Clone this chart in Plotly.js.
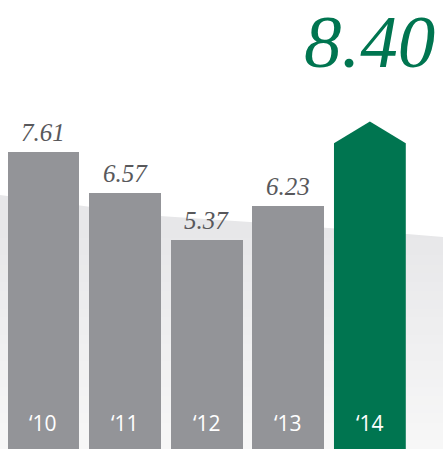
<!DOCTYPE html>
<html>
<head>
<meta charset="utf-8">
<script src="https://cdn.plot.ly/plotly-3.0.1.min.js"></script>
<style>html,body{margin:0;padding:0;background:#fff;}#chart{width:443px;height:449px;}</style>
</head>
<body>
<div id="chart"></div>
<script>
// Data
const years = ["\u201810", "\u201811", "\u201812", "\u201813", "\u201814"];
const values = [7.61, 6.57, 5.37, 6.23, 8.40];
const valueLabels = ["7.61", "6.57", "5.37", "6.23", "8.40"];

// Style
const GRAY = "#939498";
const GREEN = "#007550";
const BAR_W = 0.88;
const HEAD = 0.56; // arrow head height in value units

const n = values.length;
const idx = values.map((_, i) => i);
const last = n - 1;

const traces = [];
// gray bars
traces.push({
  type: "bar",
  x: idx.slice(0, last),
  y: values.slice(0, last),
  width: BAR_W,
  marker: {color: GRAY, line: {width: 0}},
  hoverinfo: "skip"
});
// final arrow bar built from its value
const v = values[last];
traces.push({
  type: "scatter",
  mode: "lines",
  x: [last - BAR_W / 2, last - BAR_W / 2, last, last + BAR_W / 2, last + BAR_W / 2, last - BAR_W / 2],
  y: [0, v - HEAD, v, v - HEAD, 0, 0],
  fill: "toself",
  fillcolor: GREEN,
  line: {width: 0, color: GREEN},
  hoverinfo: "skip"
});

const annotations = [];
idx.forEach(i => {
  if (i < last) {
    annotations.push({
      x: i, y: values[i], xref: "x", yref: "y",
      text: valueLabels[i], showarrow: false,
      yanchor: "bottom", yshift: 4,
      font: {family: "Liberation Serif", size: 25, color: "#58585b", style: "italic"}
    });
  } else {
    annotations.push({
      x: i, y: values[i], xref: "x", yref: "y",
      text: valueLabels[i], showarrow: false,
      yanchor: "bottom", yshift: 37, borderpad: 0,
      font: {family: "Liberation Serif", size: 75, color: GREEN, style: "italic"}
    });
  }
  annotations.push({
    x: i, y: 0, xref: "x", yref: "y",
    text: years[i], showarrow: false,
    yanchor: "bottom", yshift: 10,
    font: {family: "Open Sans", size: 21, color: "#ffffff"}
  });
});

// background swoosh (decoration, paper coords)
const W = 443, H = 449;
const px = (x) => (x / W).toFixed(4);
const py = (y) => (1 - y / H).toFixed(4);
const edge = [[0, 195], [160, 216], [250, 222], [407, 234], [443, 237]];
let path = "M " + edge.map(p => px(p[0]) + "," + py(p[1])).join(" L ") +
  " L " + px(443) + "," + py(449) + " L " + px(0) + "," + py(449) + " Z";
const shapes = [{
  type: "path", xref: "paper", yref: "paper", path: path,
  fillcolor: "#e7e7e9", line: {width: 0}, layer: "below"
}];
// gradient steps toward lighter at bottom (solid colours, later ones on top)
const c0 = [231, 231, 233], c1 = [247, 247, 247];
const steps = 24;
for (let s = 0; s < steps; s++) {
  const y0 = 238 + s * (449 - 238) / steps;
  const t = (s + 1) / steps;
  const c = c0.map((a, k) => Math.round(a + (c1[k] - a) * t));
  shapes.push({
    type: "rect", xref: "paper", yref: "paper",
    x0: 0, x1: 1, y0: 0, y1: 1 - y0 / H,
    fillcolor: "rgb(" + c.join(",") + ")", line: {width: 0}, layer: "below"
  });
}

const layout = {
  width: W, height: H,
  margin: {l: 0, r: 0, t: 0, b: 0, pad: 0},
  paper_bgcolor: "#ffffff",
  plot_bgcolor: "rgba(0,0,0,0)",
  showlegend: false,
  xaxis: {range: [-0.533, 4.896], visible: false, fixedrange: true},
  yaxis: {range: [0, 11.513], visible: false, fixedrange: true},
  bargap: 0,
  annotations: annotations,
  shapes: shapes
};

Plotly.newPlot("chart", traces, layout, {displayModeBar: false, staticPlot: true});
</script>
</body>
</html>
